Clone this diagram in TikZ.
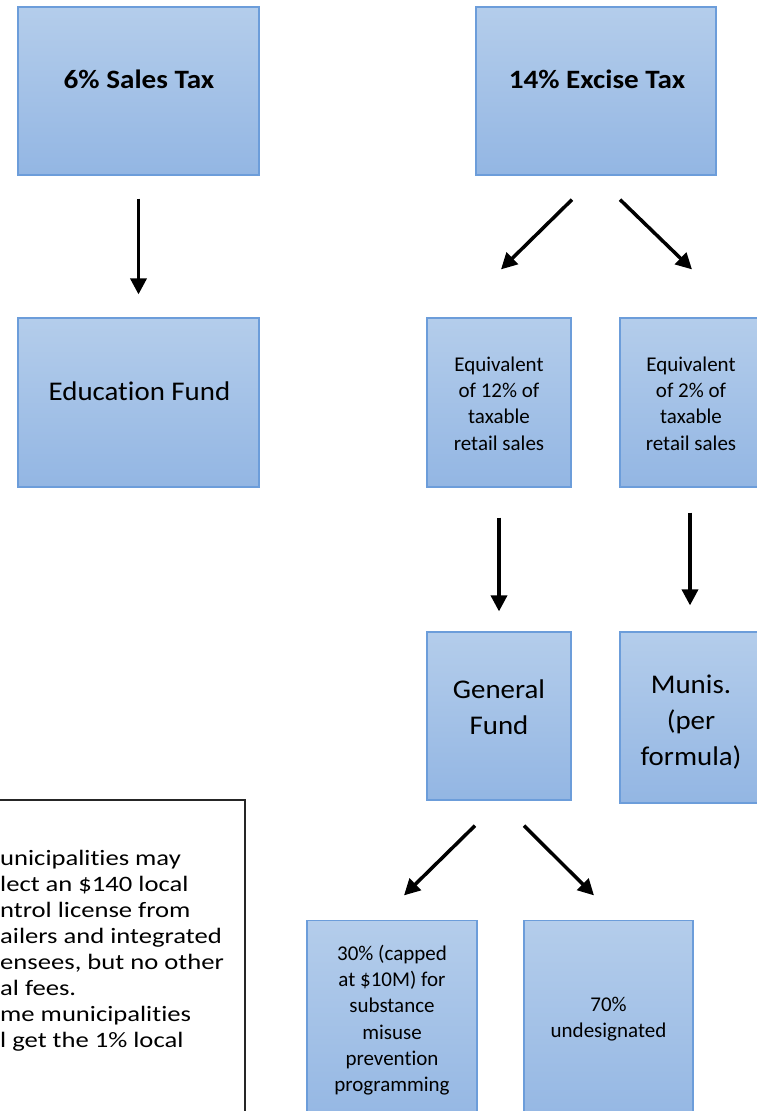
\documentclass[tikz,border=0pt]{standalone}
\usepackage{fontspec}
\setmainfont{Carlito}[Ligatures=NoCommon]
\newfontfamily\bigfont{Carlito}[FakeStretch=1.07,Ligatures=NoCommon]
\newfontfamily\headfont{Carlito}[FakeStretch=1.1,Ligatures=NoCommon]
\newfontfamily\notefont{Carlito}[FakeStretch=1.21,Ligatures=NoCommon]
\usetikzlibrary{arrows.meta,calc}
\definecolor{boxtop}{RGB}{180,205,235}
\definecolor{boxbot}{RGB}{147,182,227}
\definecolor{boxline}{RGB}{108,157,218}
\begin{document}
\begin{tikzpicture}[x=1pt,y=-1pt,
  box/.style={draw=boxline, line width=1.2pt, top color=boxtop, bottom color=boxbot, inner sep=0pt},
  arr/.style={line width=3.5pt, -{Triangle[length=16pt,width=16pt]}},
  headtxt/.style={font=\headfont\bfseries\fontsize{26.5}{34}\selectfont, inner sep=0pt},
  bigtxt/.style={font=\bigfont\fontsize{27}{36}\selectfont, align=center, inner sep=0pt},
  smalltxt/.style={font=\fontsize{21}{26.3}\selectfont, align=center, inner sep=0pt},
  notetxt/.style={font=\notefont\fontsize{22}{26}\selectfont, align=left, inner sep=0pt}]
\useasboundingbox (0,0) rectangle (757,1111);
\clip (0,0) rectangle (757,1111);
% boxes
\node[box, minimum width=241pt, minimum height=168pt] (A) at (138.5,91) {};
\node[box, minimum width=240pt, minimum height=168pt] (B) at (596,91) {};
\node[box, minimum width=241pt, minimum height=169pt] (Ed) at (138.5,402.5) {};
\node[box, minimum width=144pt, minimum height=169pt] (C) at (499,402.5) {};
\node[box, minimum width=140pt, minimum height=169pt] (D) at (690,402.5) {};
\node[box, minimum width=144pt, minimum height=168pt] (GF) at (499,716) {};
\node[box, minimum width=140pt, minimum height=171pt] (M) at (690,717.5) {};
\node[box, minimum width=170pt, minimum height=210pt] (E) at (392,1025.7) {};
\node[box, minimum width=169pt, minimum height=210pt] (F) at (608.5,1025.7) {};
\node[draw=black!85, line width=1.2pt, minimum width=265pt, minimum height=330pt, inner sep=0pt] (T) at (112.5,965) {};
% texts
\node[headtxt, anchor=base] (tA) at (139,88) {6\% Sales Tax};
\node[headtxt, anchor=base] (tB) at (597,88) {14\% Excise Tax};
\node[bigtxt, anchor=base] (tEd) at (139.5,400) {Education Fund};
\node[smalltxt] (tC) at (499,403.5) {Equivalent\\of 12\% of\\taxable\\retail sales};
\node[smalltxt] (tD) at (691,403.5) {Equivalent\\of 2\% of\\taxable\\retail sales};
\node[bigtxt] (tGF) at (499,707) {General\\Fund};
\node[bigtxt] (tM) at (691,722) {Munis.\\(per\\formula)};
\node[smalltxt] (tE) at (392,1020) {30\% (capped\\at \$10M) for\\substance\\misuse\\prevention\\programming};
\node[smalltxt] (tF) at (608.5,1019) {70\%\\undesignated};
\node[notetxt, anchor=north west] (tT) at (0,850.5) {unicipalities may\\lect an \$140 local\\ntrol license from\\ailers and integrated\\ensees, but no other\\al fees.\\me municipalities\\l get the 1\% local};
% connectors
\draw[arr, shorten <=23pt, shorten >=23pt] (A.south) -- (Ed.north);
\coordinate (b1) at ($(B.south)+(-24,24)$);
\coordinate (c1) at ($(C.north)+(2,-48)$);
\coordinate (b2) at ($(B.south)+(24,24)$);
\coordinate (d1) at ($(D.north)+(2,-48)$);
\draw[arr] (b1) -- (c1);
\draw[arr] (b2) -- (d1);
\draw[arr, shorten <=30pt, shorten >=20pt] (C.south) -- (GF.north);
\draw[arr, shorten <=25pt, shorten >=26pt] (D.south) -- (M.north);
\coordinate (g1) at ($(GF.south)+(-24,25)$);
\coordinate (e1) at ($(E.north)+(12,-24.7)$);
\coordinate (g2) at ($(GF.south)+(25,25)$);
\coordinate (f1) at ($(F.north)+(-14.5,-24.7)$);
\draw[arr] (g1) -- (e1);
\draw[arr] (g2) -- (f1);
\end{tikzpicture}
\end{document}
